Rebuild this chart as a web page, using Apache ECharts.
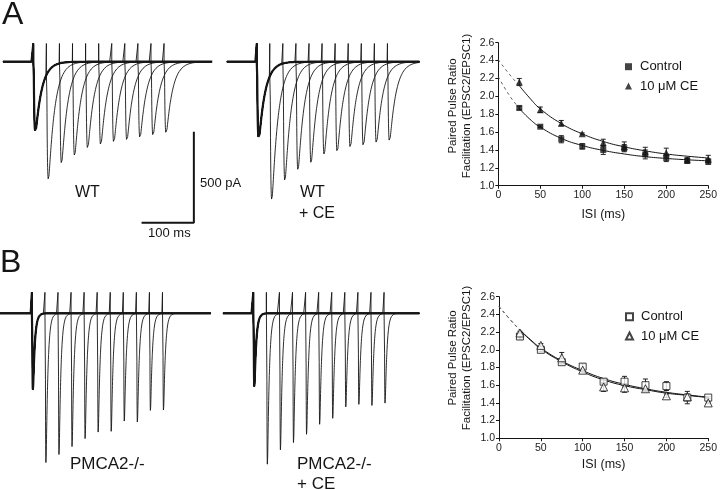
<!DOCTYPE html>
<html>
<head>
<meta charset="utf-8">
<script src="https://cdn.jsdelivr.net/npm/echarts@6/dist/echarts.min.js"></script>
<style>
    html, body {margin: 0; padding: 0; background: #fff;}
    #main {width: 720px; height: 490px;}
</style>
</head>
<body>
<div id="main"></div>
<script>
'use strict';
// 刺激间隔 ISI (ms)
var isiMs = [25, 50, 75, 100, 125, 150, 175, 200, 225, 250];
// 拟合曲线采样点 (虚线段 / 实线段)
var fitDashX = [0, 12.5, 25];
var fitX = [25, 37.5, 50, 75, 100, 125, 150, 175, 200, 225, 250];

// A: WT 配对脉冲比
var wtCtrl = [1.87, 1.66, 1.52, 1.44, 1.40, 1.42, 1.35, 1.31, 1.28, 1.27];
var wtCtrlErr = [0.02, 0.01, 0.04, 0.03, 0.05, 0.04, 0.05, 0.04, 0.03, 0.03];
var wtCE = [2.16, 1.85, 1.70, 1.58, 1.48, 1.44, 1.38, 1.37, 1.29, 1.30];
var wtCEErr = [0.04, 0.03, 0.03, 0.01, 0.04, 0.05, 0.05, 0.05, 0.02, 0.04];
var wtCtrlFitDash = [2.22, 2.02, 1.865];
var wtCtrlFit = [1.865, 1.745, 1.655, 1.53, 1.45, 1.395, 1.355, 1.325, 1.305, 1.29, 1.278];
var wtCEFitDash = [2.41, 2.255, 2.12];
var wtCEFit = [2.12, 1.98, 1.86, 1.695, 1.58, 1.495, 1.435, 1.39, 1.355, 1.33, 1.31];

// B: PMCA2-/- 配对脉冲比
var koCtrl = [2.15, 2.00, 1.86, 1.81, 1.64, 1.64, 1.60, 1.59, 1.46, 1.46];
var koCtrlErr = [0.03, 0.02, 0.02, 0.03, 0.02, 0.06, 0.07, 0.05, 0.07, 0.01];
var koCE = [2.19, 2.05, 1.91, 1.77, 1.58, 1.57, 1.56, 1.48, 1.47, 1.40];
var koCEErr = [0.02, 0.02, 0.06, 0.02, 0.05, 0.05, 0.02, 0.02, 0.03, 0.01];
var koCtrlFitDash = [2.49, 2.35, 2.225];
var koCtrlFit = [2.225, 2.115, 2.02, 1.875, 1.765, 1.675, 1.61, 1.56, 1.52, 1.49, 1.465];
var koCEFitDash = [2.49, 2.35, 2.22];
var koCEFit = [2.22, 2.11, 2.01, 1.865, 1.75, 1.66, 1.595, 1.55, 1.51, 1.485, 1.46];

// 电流记录: 第一个 EPSC 与各 ISI 下第二个 EPSC 的峰值 (pA)
var wtFirst = 384;
var wtSecond = [593, 552, 516, 480, 461, 446, 435, 421, 408, 395];
var wtCeFirst = 421;
var wtCeSecond = [700, 647, 595, 557, 511, 498, 475, 465, 450, 439];
var koFirst = 421;
var koSecond = [824, 780, 736, 692, 656, 652, 595, 600, 536, 534];
var koCeFirst = 403;
var koCeSecond = [833, 754, 714, 668, 613, 580, 517, 503, 509, 496];
// 比例尺
var scaleBarMs = 100;
var scaleBarPa = 500;

var fontFamily = '"Liberation Sans", Arial, Helvetica, sans-serif';
var ink = '#151515';
var pxPerMs = 0.523;
var pxPerPa = 0.1821;
var yMin = -900, yMax = 200;

var panels = [
    {stimX: 33.3, baseY: 61.7, tMin: -58, tMax: 342, first: wtFirst, second: wtSecond, art: 100, tauR: 1.2, tauD: 12},
    {stimX: 256.7, baseY: 61.7, tMin: -57, tMax: 312, first: wtCeFirst, second: wtCeSecond, art: 100, tauR: 1.2, tauD: 12},
    {stimX: 31.7, baseY: 313.3, tMin: -61, tMax: 343, first: koFirst, second: koSecond, art: 115, tauR: 0.5, tauD: 3.5},
    {stimX: 253.3, baseY: 313.3, tMin: -58, tMax: 318, first: koCeFirst, second: koCeSecond, art: 115, tauR: 0.5, tauD: 3.5}
];

// EPSC 波形 (双指数, 峰值归一)
function makeKernel(tr, td) {
    var tp = tr * td / (td - tr) * Math.log(td / tr);
    var norm = Math.exp(-tp / td) - Math.exp(-tp / tr);
    return function (s) {
        if (s <= 0) return 0;
        return (Math.exp(-s / td) - Math.exp(-s / tr)) / norm;
    };
}

function buildTrace(p, stims, amps) {
    var k = makeKernel(p.tauR, p.tauD);
    var lat = 0.8, dt = 0.2;
    var val = function (t) {
        var v = 0;
        for (var i = 0; i < stims.length; i++) {
            v -= amps[i] * k(t - stims[i] - lat);
        }
        return v;
    };
    var pts = [];
    var j = 0;
    for (var t = p.tMin; t <= p.tMax; t += dt) {
        while (j < stims.length && stims[j] <= t) {
            var b = val(stims[j]);
            pts.push([stims[j], b], [stims[j], p.art], [stims[j] + 0.05, b]);
            j++;
        }
        pts.push([t, val(t)]);
    }
    return pts;
}

var grids = [], xAxes = [], yAxes = [], series = [];

panels.forEach(function (p, gi) {
    grids.push({
        left: p.stimX + p.tMin * pxPerMs,
        top: p.baseY - yMax * pxPerPa,
        width: (p.tMax - p.tMin) * pxPerMs,
        height: (yMax - yMin) * pxPerPa
    });
    xAxes.push({type: 'value', gridIndex: gi, min: p.tMin, max: p.tMax, show: false});
    yAxes.push({type: 'value', gridIndex: gi, min: yMin, max: yMax, show: false});
    // 配对脉冲记录
    isiMs.forEach(function (isi, i) {
        series.push({
            type: 'line', xAxisIndex: gi, yAxisIndex: gi, silent: true, showSymbol: false,
            data: buildTrace(p, [0, isi], [p.first, p.second[i]]),
            lineStyle: {color: ink, width: 0.9}, z: 2
        });
    });
    // 单个刺激 (粗线)
    series.push({
        type: 'line', xAxisIndex: gi, yAxisIndex: gi, silent: true, showSymbol: false,
        data: buildTrace(p, [0], [p.first]),
        lineStyle: {color: ink, width: 2.2}, z: 3
    });
});

// 比例尺 (A 左图坐标系内)
series.push({
    type: 'line', xAxisIndex: 0, yAxisIndex: 0, silent: true, showSymbol: false,
    data: [[207, -885], [207 + scaleBarMs, -885], [207 + scaleBarMs, -885 + scaleBarPa]],
    lineStyle: {color: ink, width: 2}
});

// PPR 图
var pprGrids = [
    {left: 498.3, top: 42.7, width: 214, height: 143, nameGap: 22},
    {left: 499, top: 296.7, width: 213.3, height: 141.6, nameGap: 19.5}
];
pprGrids.forEach(function (g, k) {
    var gi = 4 + k;
    grids.push({left: g.left, top: g.top, width: g.width, height: g.height});
    xAxes.push({
        type: 'value', gridIndex: gi, min: 0, max: 250, interval: 50,
        name: 'ISI (ms)', nameLocation: 'middle', nameGap: g.nameGap,
        nameTextStyle: {fontFamily: fontFamily, fontSize: 12.5, color: ink},
        axisLine: {lineStyle: {color: ink, width: 1}},
        axisTick: {length: 3, lineStyle: {color: ink}},
        axisLabel: {fontFamily: fontFamily, fontSize: 10.5, color: '#222', margin: 4},
        splitLine: {show: false}
    });
    yAxes.push({
        type: 'value', gridIndex: gi, min: 1.0, max: 2.6, interval: 0.2,
        axisLine: {show: true, lineStyle: {color: ink, width: 1}},
        axisTick: {show: true, length: 3, lineStyle: {color: ink}},
        axisLabel: {
            fontFamily: fontFamily, fontSize: 10.5, color: '#222', margin: 4,
            formatter: function (v) { return v.toFixed(1); }
        },
        splitLine: {show: false}
    });
});

function zip(xs, ys) {
    return xs.map(function (x, i) { return [x, ys[i]]; });
}

function fitSeries(gi, dashY, solidY) {
    series.push({
        type: 'line', xAxisIndex: gi, yAxisIndex: gi, silent: true, showSymbol: false, smooth: true,
        data: zip(fitDashX, dashY), lineStyle: {color: '#555', width: 0.9, type: [3, 3]}, z: 1
    });
    series.push({
        type: 'line', xAxisIndex: gi, yAxisIndex: gi, silent: true, showSymbol: false, smooth: true,
        data: zip(fitX, solidY), lineStyle: {color: ink, width: 1}, z: 1
    });
}

function errSeries(gi, vals, errs) {
    series.push({
        type: 'custom', xAxisIndex: gi, yAxisIndex: gi, silent: true, z: 2,
        data: isiMs.map(function (x, i) { return [x, vals[i], errs[i]]; }),
        renderItem: function (params, api) {
            var x = api.value(0), y = api.value(1), e = api.value(2);
            var hi = api.coord([x, y + e]), lo = api.coord([x, y - e]);
            var w = 2.5;
            var st = {stroke: '#222', lineWidth: 1};
            return {type: 'group', children: [
                {type: 'line', shape: {x1: hi[0], y1: hi[1], x2: lo[0], y2: lo[1]}, style: st},
                {type: 'line', shape: {x1: hi[0] - w, y1: hi[1], x2: hi[0] + w, y2: hi[1]}, style: st},
                {type: 'line', shape: {x1: lo[0] - w, y1: lo[1], x2: lo[0] + w, y2: lo[1]}, style: st}
            ]};
        }
    });
}

function pointSeries(gi, name, vals, symbol, size, open) {
    series.push({
        type: 'scatter', name: name, xAxisIndex: gi, yAxisIndex: gi, silent: true,
        symbol: symbol, symbolSize: size, data: zip(isiMs, vals), z: 4,
        itemStyle: open ? {color: '#fff', borderColor: ink, borderWidth: 1} : {color: ink}
    });
}

fitSeries(4, wtCtrlFitDash, wtCtrlFit);
fitSeries(4, wtCEFitDash, wtCEFit);
errSeries(4, wtCtrl, wtCtrlErr);
errSeries(4, wtCE, wtCEErr);
pointSeries(4, 'A|Control', wtCtrl, 'rect', 6, false);
pointSeries(4, 'A|CE', wtCE, 'triangle', 7, false);

fitSeries(5, koCtrlFitDash, koCtrlFit);
fitSeries(5, koCEFitDash, koCEFit);
errSeries(5, koCtrl, koCtrlErr);
errSeries(5, koCE, koCEErr);
pointSeries(5, 'B|Control', koCtrl, 'rect', 7, true);
pointSeries(5, 'B|CE', koCE, 'triangle', 8, true);

var legendText = {'A|Control': 'Control', 'A|CE': '10 μM CE', 'B|Control': 'Control', 'B|CE': '10 μM CE'};
function makeLegend(names, top) {
    return {
        data: names, orient: 'vertical', left: 620, top: top,
        itemWidth: 7, itemHeight: 7, itemGap: 5.3, selectedMode: false,
        formatter: function (n) { return legendText[n]; },
        textStyle: {fontFamily: fontFamily, fontSize: 13, color: ink, lineHeight: 14, padding: [0, 0, 0, 3]}
    };
}

function txt(s, x, y, size) {
    return {
        type: 'text', x: x, y: y, silent: true,
        style: {text: s, font: size + 'px ' + fontFamily, fill: ink,
            align: 'left', verticalAlign: 'middle', textAlign: 'left', textVerticalAlign: 'middle'}
    };
}

function yTitle(x, y) {
    return {
        type: 'text', x: x, y: y, rotation: Math.PI / 2, silent: true,
        style: {
            text: 'Paired Pulse Ratio\nFacilitation (EPSC2/EPSC1)',
            font: '11.5px ' + fontFamily, fill: ink, lineHeight: 13.7,
            align: 'center', verticalAlign: 'middle', textAlign: 'center', textVerticalAlign: 'middle'
        }
    };
}

var option = {
    animation: false,
    backgroundColor: '#fff',
    grid: grids,
    xAxis: xAxes,
    yAxis: yAxes,
    legend: [makeLegend(['A|Control', 'A|CE'], 54.7), makeLegend(['B|Control', 'B|CE'], 304.7)],
    graphic: [
        txt('A', 2, 15, 32),
        txt('B', 0, 263, 32),
        txt('WT', 75, 193, 16),
        txt('WT', 300, 193, 16),
        txt('+ CE', 299, 214, 16),
        txt('500 pA', 200, 183, 13),
        txt('100 ms', 148, 233, 13),
        txt('PMCA2-/-', 70, 464.5, 17),
        txt('PMCA2-/-', 297, 464.5, 17),
        txt('+ CE', 297, 484.5, 17),
        yTitle(460, 106),
        yTitle(460, 358)
    ],
    series: series
};

var myChart = echarts.init(document.getElementById('main'), null, {renderer: 'canvas'});
myChart.setOption(option);
</script>
</body>
</html>
